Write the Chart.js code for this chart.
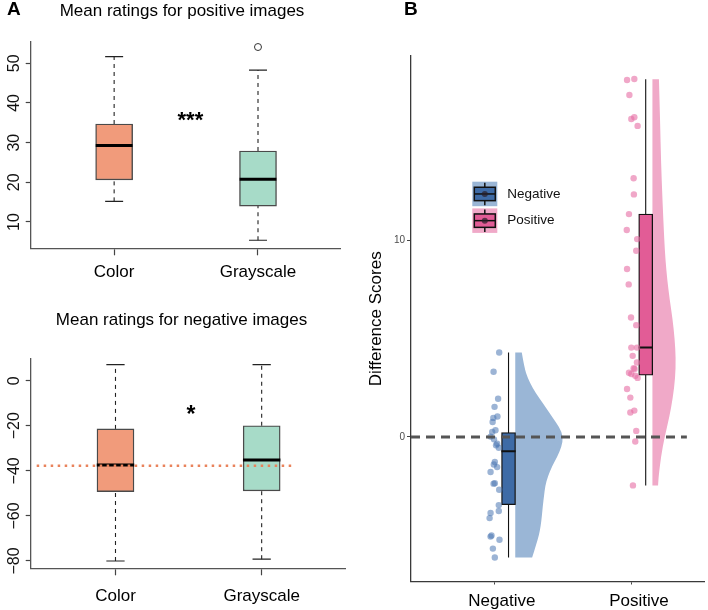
<!DOCTYPE html>
<html>
<head>
<meta charset="utf-8">
<script src="https://cdn.jsdelivr.net/npm/chart.js@4.4.1/dist/chart.umd.min.js"></script>
<style>
  html, body { margin: 0; padding: 0; background: #fff; }
  #wrap { position: relative; width: 708px; height: 610px; overflow: hidden; }
  canvas { position: absolute; }
</style>
</head>
<body>
<div id="wrap">
  <canvas id="chart-pos" width="360" height="300" style="left:0;top:0"></canvas>
  <canvas id="chart-neg" width="360" height="310" style="left:0;top:300px"></canvas>
  <canvas id="chart-diff" width="348" height="610" style="left:360px;top:0"></canvas>
</div>
<script>
// ---------- Panel A : mean ratings ----------
const groupsA = ["Color", "Grayscale"];
// [min, q1, median, q3, max]
const posColor = [15.2, 20.6, 29.25, 34.7, 51.7];
const posGray = [5.4, 14.0, 20.75, 27.9, 48.3];
const posGrayOutliers = [54.1];
const posTicks = [10, 20, 30, 40, 50];

const negColor = [-80.0, -49.2, -37.4, -21.4, 7.1];
const negGray = [-79.2, -48.9, -35.2, -20.0, 7.1];
const negTicks = [-80, -60, -40, -20, 0];
const negRefLine = -37.7;

// ---------- Panel B : difference scores ----------
const groupsB = ["Negative", "Positive"];
const diffTicks = [0, 10];
const negDiff = [4.29, 3.31, 1.94, 1.53, 1.04, 0.97, 0.76, 0.34, 0.25, 0.02, -0.12, -0.34, -0.42, -0.55, -1.27,
  -1.40, -1.53, -1.78, -2.35, -2.37, -2.68, -3.46, -3.76, -3.86, -4.12, -5.00, -5.06, -5.22, -5.67, -6.12];
const negJitter = [0.032, -0.009, 0.024, -0.002, 0.019, -0.011, -0.016, 0.005, -0.019, -0.031, -0.006, 0.017, 0.009, 0.029, 0.0,
  -0.007, 0.017, -0.031, 0.0, -0.009, 0.032, 0.029, 0.029, -0.031, -0.038, -0.024, -0.031, 0.034, -0.014, 0.0];
const posDiff = [18.13, 18.18, 17.37, 16.15, 16.24, 15.80, 13.14, 12.32, 11.32, 10.51, 10.05, 9.46, 8.53, 7.75, 6.07, 5.68,
  4.54, 4.54, 4.12, 3.78, 3.49, 3.45, 3.26, 3.20, 3.11, 3.00, 2.44, 2.00, 1.24, 1.34, 0.31, -0.23, -2.46];
const posJitter = [-0.036, 0.017, -0.019, -0.005, 0.017, 0.041, 0.012, 0.014, -0.022, -0.038, 0.038, 0.031, -0.036, -0.024, -0.007, 0.031,
  -0.005, 0.036, 0.005, 0.036, 0.012, 0.019, -0.022, -0.005, 0.024, 0.041, -0.036, -0.012, -0.012, 0.017, 0.031, 0.024, 0.007];
const negBox = [-6.12, -3.44, -0.73, 0.22, 4.29];
const posBox = [-2.46, 3.14, 4.54, 11.32, 18.17];
// half violin density estimates (score -> density)
const negDensY = [4.29, 3.5, 3.0, 2.5, 2.0, 1.5, 1.0, 0.5, 0.0, -0.5, -1.0, -1.5, -2.0, -2.5, -3.0, -3.5, -4.0, -4.5, -5.0, -5.5, -6.12];
const negDens = [0.022, 0.031, 0.042, 0.058, 0.080, 0.103, 0.125, 0.149, 0.162, 0.156, 0.142, 0.124, 0.110, 0.101, 0.097, 0.093, 0.090, 0.086, 0.080, 0.070, 0.057];
const posDensY = [18.17, 16, 14, 12, 10, 9, 8, 7, 6, 5, 4, 3, 2, 1, 0, -1, -2, -2.46];
const posDens = [0.022, 0.026, 0.029, 0.034, 0.040, 0.044, 0.050, 0.058, 0.068, 0.075, 0.079, 0.077, 0.069, 0.057, 0.041, 0.029, 0.021, 0.019];

const FONT = '"Liberation Sans", Arial, Helvetica, sans-serif';
const ORANGE = "#F19B7B";
const GREEN = "#A7DBC8";
const BLUE = "#3E6BA6";
const BLUE_LIGHT = "#9AB6D6";
const BLUE_PT = "rgba(74, 118, 178, 0.55)";
const PINK = "#E25C96";
const PINK_LIGHT = "#F0A9C8";
const PINK_PT = "rgba(230, 108, 164, 0.6)";

// ---------- plugins ----------
const rotatedYLabels = {
  id: "rotatedYLabels",
  afterDraw(chart, args, opts) {
    const ys = chart.scales.y;
    const ctx = chart.ctx;
    ctx.save();
    ctx.font = opts.font;
    ctx.fillStyle = "#111";
    ctx.textAlign = "center";
    ctx.textBaseline = "alphabetic";
    ys.ticks.forEach(t => {
      const py = ys.getPixelForValue(t.value);
      ctx.save();
      ctx.translate(opts.x, py);
      ctx.rotate(-Math.PI / 2);
      ctx.fillText(String(t.value).replace("-", "\u2212"), 0, 0);
      ctx.restore();
    });
    ctx.restore();
  }
};

const annotations = {
  id: "annotations",
  afterDatasetsDraw(chart, args, opts) {
    const { ctx, scales: { x, y } } = chart;
    ctx.save();
    ctx.fillStyle = "#000";
    ctx.textAlign = "center";
    ctx.textBaseline = "alphabetic";
    (opts.items || []).forEach(it => {
      ctx.font = it.font;
      ctx.fillText(it.text, x.getPixelForValue(it.x), y.getPixelForValue(it.y) + it.dy);
    });
    ctx.restore();
  }
};

const panelLetter = {
  id: "panelLetter",
  afterDraw(chart, args, opts) {
    if (!opts.text) return;
    const ctx = chart.ctx;
    ctx.save();
    ctx.font = "bold 19px " + FONT;
    ctx.fillStyle = "#000";
    ctx.textBaseline = "alphabetic";
    ctx.fillText(opts.text, opts.x, opts.y);
    ctx.restore();
  }
};

const halfViolins = {
  id: "halfViolins",
  beforeDatasetsDraw(chart, args, opts) {
    const { ctx, scales: { x, y } } = chart;
    ctx.save();
    opts.items.forEach(v => {
      const bx = x.getPixelForValue(v.base);
      const pts = v.ys.map((val, i) => ({ px: x.getPixelForValue(v.base + v.dens[i] * opts.scale), py: y.getPixelForValue(val) }));
      ctx.beginPath();
      ctx.moveTo(bx, pts[0].py);
      ctx.lineTo(pts[0].px, pts[0].py);
      for (let i = 1; i < pts.length - 1; i++) {
        const mx = (pts[i].px + pts[i + 1].px) / 2;
        const my = (pts[i].py + pts[i + 1].py) / 2;
        ctx.quadraticCurveTo(pts[i].px, pts[i].py, mx, my);
      }
      const last = pts[pts.length - 1];
      ctx.lineTo(last.px, last.py);
      ctx.lineTo(bx, last.py);
      ctx.closePath();
      ctx.fillStyle = v.color;
      ctx.fill();
    });
    ctx.restore();
  }
};

const rainLegend = {
  id: "rainLegend",
  afterDraw(chart, args, opts) {
    const ctx = chart.ctx;
    ctx.save();
    opts.items.forEach((it, i) => {
      const x0 = opts.x, y0 = opts.y + i * opts.step, w = opts.w, h = opts.h;
      const cx = x0 + w / 2, cy = y0 + h / 2;
      ctx.fillStyle = it.bg;
      ctx.fillRect(x0, y0, w, h);
      ctx.strokeStyle = "#111";
      ctx.lineWidth = 1.5;
      ctx.beginPath();
      ctx.moveTo(cx, y0 + 1);
      ctx.lineTo(cx, y0 + h - 1);
      ctx.stroke();
      ctx.fillStyle = it.fill;
      ctx.fillRect(x0 + 2, cy - 6.7, w - 4, 13.4);
      ctx.strokeRect(x0 + 2, cy - 6.7, w - 4, 13.4);
      ctx.beginPath();
      ctx.moveTo(x0 + 2, cy);
      ctx.lineTo(x0 + w - 2, cy);
      ctx.stroke();
      ctx.fillStyle = "rgba(40, 30, 40, 0.7)";
      ctx.beginPath();
      ctx.arc(cx, cy, 3, 0, Math.PI * 2);
      ctx.fill();
      ctx.fillStyle = "#111";
      ctx.font = "13.5px " + FONT;
      ctx.textBaseline = "middle";
      ctx.fillText(it.label, opts.labelX, cy);
    });
    ctx.restore();
  }
};

// ---------- helpers ----------
function lineSet(points, color, width, dash, order) {
  return {
    type: "line",
    data: points,
    borderColor: color,
    borderWidth: width,
    borderDash: dash || [],
    pointRadius: 0,
    fill: false,
    order: order
  };
}

function boxplotA(stats, x) {
  const [mn, q1, med, q3, mx] = stats;
  const cap = 0.0625, half = 0.128;
  return [
    lineSet([{ x: x, y: q3 }, { x: x, y: mx }], "#222", 1.1, [4, 4], 5),
    lineSet([{ x: x, y: mn }, { x: x, y: q1 }], "#222", 1.1, [4, 4], 5),
    lineSet([{ x: x - cap, y: mx }, { x: x + cap, y: mx }], "#222", 1.2, [], 5),
    lineSet([{ x: x - cap, y: mn }, { x: x + cap, y: mn }], "#222", 1.2, [], 5),
    lineSet([{ x: x - half, y: med }, { x: x + half, y: med }], "#000", 3, [], 1)
  ];
}

function boxBars(statsList, xs, colors, thickness, border, bw) {
  return {
    type: "bar",
    data: statsList.map((s, i) => ({ x: xs[i], y: [s[1], s[3]] })),
    backgroundColor: colors,
    borderColor: border,
    borderWidth: bw,
    borderSkipped: false,
    barThickness: thickness,
    order: 3
  };
}

function makePanelA(canvasId, cfg) {
  const datasets = [
    boxBars([cfg.color, cfg.gray], [1, 2], [ORANGE, GREEN], 37, "#4a4a4a", 1.4),
    ...boxplotA(cfg.color, 1),
    ...boxplotA(cfg.gray, 2),
    ...cfg.extra
  ];
  return new Chart(document.getElementById(canvasId), {
    type: "scatter",
    data: { datasets: datasets },
    options: {
      responsive: false,
      animation: false,
      devicePixelRatio: 1,
      layout: { padding: cfg.padding },
      plugins: {
        legend: { display: false },
        tooltip: { enabled: false },
        title: {
          display: true,
          text: cfg.title,
          color: "#000",
          font: { family: FONT, size: 17, weight: "normal" },
          padding: cfg.titlePad
        },
        rotatedYLabels: { font: "16px " + FONT, x: 19 },
        annotations: { items: cfg.notes },
        panelLetter: cfg.letter
      },
      scales: {
        x: {
          type: "linear",
          min: 0.42,
          max: 2.57,
          offset: false,
          afterBuildTicks: s => { s.ticks = [{ value: 1 }, { value: 2 }]; },
          afterFit: s => { s.height = cfg.xHeight; },
          ticks: {
            callback: v => groupsA[Math.round(v) - 1],
            color: "#000",
            font: { family: FONT, size: 17 },
            padding: cfg.xPad,
            maxRotation: 0,
            autoSkip: false
          },
          grid: { display: true, drawOnChartArea: false, drawTicks: true, tickLength: 7, tickColor: "#444", tickWidth: 1.2, offset: false },
          border: { display: true, color: "#555", width: 1.3 }
        },
        y: {
          type: "linear",
          min: cfg.yMin,
          max: cfg.yMax,
          afterBuildTicks: s => { s.ticks = cfg.ticks.map(v => ({ value: v })); },
          afterFit: s => { s.width = cfg.yWidth; },
          ticks: { display: false },
          grid: { display: true, drawOnChartArea: false, drawTicks: true, tickLength: 5, tickColor: "#444", tickWidth: 1.2 },
          border: { display: true, color: "#555", width: 1.3 }
        }
      }
    },
    plugins: [rotatedYLabels, annotations, panelLetter]
  });
}

// ---------- Panel A top ----------
makePanelA("chart-pos", {
  title: "Mean ratings for positive images",
  color: posColor,
  gray: posGray,
  ticks: posTicks,
  yMin: 3.37,
  yMax: 55.44,
  padding: { left: 24, right: 20, top: 0, bottom: 0 },
  titlePad: { top: 1, bottom: 20.3 },
  yWidth: 6.7,
  xHeight: 51.7,
  xPad: 7,
  notes: [{ text: "***", x: 1.53, y: 35.97, dy: 8.5, font: "bold 22px " + FONT }],
  letter: { text: "A", x: 7, y: 15 },
  extra: [{
    type: "scatter",
    data: posGrayOutliers.map(v => ({ x: 2, y: v })),
    pointRadius: 3.5,
    pointBackgroundColor: "#fff",
    pointBorderColor: "#333",
    pointBorderWidth: 1,
    order: 0
  }]
});

// ---------- Panel A bottom ----------
makePanelA("chart-neg", {
  title: "Mean ratings for negative images",
  color: negColor,
  gray: negGray,
  ticks: negTicks,
  yMin: -83.24,
  yMax: 9.93,
  padding: { left: 18, right: 15, top: 0, bottom: 0 },
  titlePad: { top: 9.8, bottom: 28.1 },
  yWidth: 12.7,
  xHeight: 41.7,
  xPad: 10.5,
  notes: [{ text: "*", x: 1.516, y: -14.2, dy: 9.5, font: "bold 23px " + FONT }],
  letter: {},
  extra: [lineSet([{ x: 0.461, y: negRefLine }, { x: 2.205, y: negRefLine }], "#E9835C", 2.5, [2.5, 4.5], 0)]
});

// ---------- Panel B ----------
const B_XMIN = 0.389, B_XMAX = 2.525, BOX_SHIFT = 0.1, BOX_HALF = 0.052;
const bDatasets = [
  lineSet([{ x: B_XMIN, y: 0 }, { x: 2.40, y: 0 }], "#555", 3, [9, 6], 0),
  {
    type: "scatter",
    data: negDiff.map((v, i) => ({ x: 1 + negJitter[i], y: v })),
    pointRadius: 3.2,
    pointBackgroundColor: BLUE_PT,
    pointBorderWidth: 0,
    order: 1
  },
  {
    type: "scatter",
    data: posDiff.map((v, i) => ({ x: 2 + posJitter[i], y: v })),
    pointRadius: 3.2,
    pointBackgroundColor: PINK_PT,
    pointBorderWidth: 0,
    order: 1
  },
  boxBars([negBox, posBox], [1 + BOX_SHIFT, 2 + BOX_SHIFT], [BLUE, PINK], 14, "#111", 1.3)
];
[[negBox, 1 + BOX_SHIFT], [posBox, 2 + BOX_SHIFT]].forEach(([s, x]) => {
  bDatasets.push(lineSet([{ x: x, y: s[0] }, { x: x, y: s[4] }], "#111", 1.1, [], 5));
  bDatasets.push(lineSet([{ x: x - BOX_HALF, y: s[2] }, { x: x + BOX_HALF, y: s[2] }], "#111", 2, [], 2));
});

new Chart(document.getElementById("chart-diff"), {
  type: "scatter",
  data: { datasets: bDatasets },
  options: {
    responsive: false,
    animation: false,
    devicePixelRatio: 1,
    layout: { padding: { left: 0, right: 0, top: 56, bottom: 0 } },
    plugins: {
      legend: { display: false },
      tooltip: { enabled: false },
      halfViolins: {
        scale: 2.16,
        items: [
          { base: 1 + BOX_SHIFT + BOX_HALF - 0.003, ys: negDensY, dens: negDens, color: BLUE_LIGHT },
          { base: 2 + BOX_SHIFT + BOX_HALF - 0.003, ys: posDensY, dens: posDens, color: PINK_LIGHT }
        ]
      },
      rainLegend: {
        x: 112.3, y: 181.7, w: 25, h: 24.5, step: 26.7, labelX: 147.3,
        items: [
          { label: "Negative", bg: BLUE_LIGHT, fill: BLUE },
          { label: "Positive", bg: PINK_LIGHT, fill: PINK }
        ]
      },
      panelLetter: { text: "B", x: 44, y: 15 }
    },
    scales: {
      x: {
        type: "linear",
        min: B_XMIN,
        max: B_XMAX,
        offset: false,
        afterBuildTicks: s => { s.ticks = [{ value: 1 }, { value: 2 }]; },
        afterFit: s => { s.height = 28.5; },
        ticks: {
          callback: v => groupsB[Math.round(v) - 1],
          color: "#000",
          font: { family: FONT, size: 17 },
          padding: 6.5,
          labelOffset: 7,
          maxRotation: 0,
          autoSkip: false
        },
        grid: { display: true, drawOnChartArea: false, drawTicks: true, tickLength: 3, tickColor: "#444", tickWidth: 1, offset: false },
        border: { display: true, color: "#3a3a3a", width: 1.3 }
      },
      y: {
        type: "linear",
        min: -7.34,
        max: 19.35,
        afterBuildTicks: s => { s.ticks = diffTicks.map(v => ({ value: v })); },
        afterFit: s => { s.width = 51; },
        ticks: { color: "#4d4d4d", font: { family: FONT, size: 10 }, padding: 2 },
        grid: { display: true, drawOnChartArea: false, drawTicks: true, tickLength: 4, tickColor: "#444", tickWidth: 1 },
        border: { display: true, color: "#3a3a3a", width: 1.3 },
        title: {
          display: true,
          text: "Difference Scores",
          color: "#000",
          font: { family: FONT, size: 17 },
          padding: { top: 6.5, bottom: 0 }
        }
      }
    }
  },
  plugins: [halfViolins, rainLegend, panelLetter]
});
</script>
</body>
</html>
